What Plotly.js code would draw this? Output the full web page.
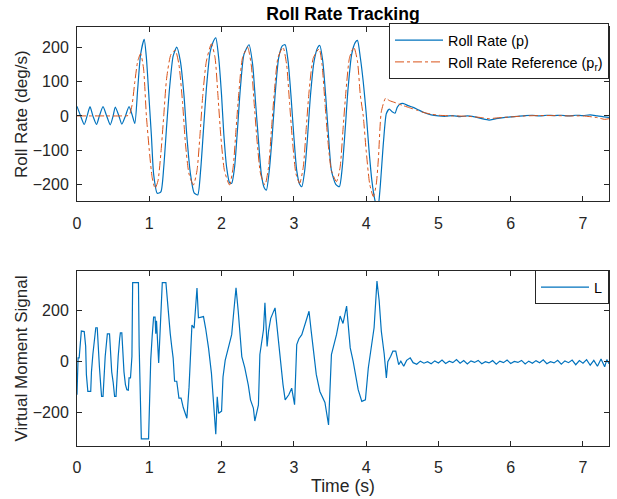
<!DOCTYPE html>
<html>
<head>
<meta charset="utf-8">
<script src="https://cdn.plot.ly/plotly-3.0.1.min.js"></script>
<style>html,body{margin:0;padding:0;background:#fff;}#chart{width:617px;height:499px;}</style>
</head>
<body>
<div id="chart"></div>
<script>
// Roll rate p (deg/s)
const time_p = [0.00,0.05,0.10,0.14,0.18,0.22,0.27,0.31,0.36,0.41,0.46,0.50,0.53,0.58,0.62,0.67,0.72,0.76,0.80,0.84,0.88,0.93,0.96,1.00,1.03,1.06,1.11,1.16,1.20,1.24,1.28,1.33,1.38,1.43,1.48,1.52,1.57,1.62,1.67,1.71,1.75,1.79,1.84,1.88,1.92,1.96,2.00,2.03,2.07,2.11,2.14,2.18,2.22,2.26,2.31,2.38,2.43,2.47,2.51,2.55,2.59,2.62,2.66,2.70,2.74,2.79,2.84,2.88,2.92,2.96,3.00,3.04,3.08,3.11,3.15,3.19,3.23,3.28,3.33,3.36,3.40,3.44,3.48,3.52,3.58,3.63,3.67,3.71,3.75,3.80,3.85,3.88,3.92,3.96,4.00,4.04,4.08,4.12,4.16,4.19,4.24,4.28,4.32,4.36,4.40,4.43,4.47,4.52,4.58,4.65,4.72,4.80,4.90,5.00,5.10,5.20,5.30,5.40,5.50,5.60,5.70,5.80,5.90,6.00,6.10,6.20,6.30,6.40,6.50,6.60,6.70,6.80,6.90,7.00,7.10,7.20,7.30,7.36];
const roll_p = [28,0,-25,0,27,0,-25,0,27,0,-26,0,26,0,-24,0,27,5,-22,80,180,224,170,40,-60,-170,-226,-222,-150,-30,80,175,201,160,60,-60,-170,-225,-231,-160,-40,80,185,215,228,170,60,-50,-150,-195,-197,-150,-40,80,180,208,150,40,-70,-170,-210,-217,-160,-60,60,170,205,208,160,60,-60,-160,-200,-207,-160,-60,60,160,200,206,160,60,-60,-160,-200,-207,-150,-40,80,180,215,221,170,100,10,-100,-190,-245,-275,-220,-76,7,20,12,8,25,35,36,30,25,18,10,3,0,-1,1,-2,0,-3,-8,-12,-8,-5,-3,-1,1,2,0,2,1,2,0,2,1,3,0,-3,-4];

// Roll rate reference p_r (deg/s)
const time_pr = [0.00,0.20,0.40,0.60,0.72,0.76,0.80,0.84,0.88,0.92,0.96,1.00,1.04,1.08,1.12,1.16,1.20,1.24,1.30,1.36,1.41,1.46,1.50,1.55,1.61,1.66,1.70,1.74,1.79,1.86,1.91,1.95,1.99,2.04,2.11,2.16,2.20,2.24,2.29,2.36,2.41,2.45,2.49,2.54,2.60,2.65,2.69,2.73,2.78,2.85,2.90,2.94,2.98,3.03,3.08,3.13,3.17,3.21,3.27,3.35,3.39,3.43,3.47,3.52,3.59,3.64,3.68,3.72,3.77,3.83,3.88,3.92,3.96,4.00,4.05,4.10,4.14,4.17,4.21,4.27,4.32,4.40,4.50,4.60,4.70,4.80,4.90,5.00,5.20,5.40,5.60,5.70,5.80,6.00,6.20,6.40,6.60,6.80,7.00,7.20,7.30,7.36];
const roll_pr = [0,0,0,0,2,30,100,160,182,140,0,-100,-180,-212,-190,-110,0,110,180,192,150,40,-80,-170,-202,-160,-60,60,160,211,170,60,-60,-160,-202,-150,-40,70,170,201,150,40,-70,-170,-202,-150,-40,70,170,201,150,40,-70,-170,-197,-150,-40,70,170,196,150,40,-70,-160,-192,-150,-40,70,170,201,160,60,0,-100,-200,-236,-200,-124,12,52,45,39,31,24,17,10,5,2,0,-1,-5,-8,-6,-3,0,1,1,0,0,-5,-10,-8];

// Virtual moment signal L
const time_L = [0.00,0.01,0.015,0.03,0.05,0.06,0.10,0.11,0.12,0.13,0.15,0.19,0.20,0.22,0.24,0.26,0.28,0.29,0.31,0.33,0.34,0.36,0.37,0.39,0.41,0.42,0.45,0.46,0.48,0.50,0.52,0.54,0.55,0.57,0.59,0.60,0.62,0.63,0.65,0.67,0.69,0.71,0.72,0.74,0.76,0.77,0.78,0.85,0.86,0.88,0.89,0.99,1.00,1.02,1.04,1.06,1.08,1.09,1.10,1.12,1.13,1.15,1.17,1.18,1.23,1.26,1.29,1.31,1.33,1.35,1.38,1.41,1.44,1.47,1.52,1.55,1.59,1.62,1.66,1.68,1.75,1.78,1.82,1.86,1.89,1.92,1.94,1.96,2.00,2.02,2.05,2.09,2.14,2.17,2.20,2.23,2.25,2.28,2.32,2.37,2.40,2.44,2.46,2.51,2.53,2.58,2.60,2.63,2.65,2.68,2.74,2.77,2.81,2.85,2.88,2.93,2.97,3.01,3.04,3.07,3.11,3.18,3.21,3.24,3.29,3.31,3.36,3.43,3.48,3.50,3.52,3.59,3.64,3.68,3.73,3.78,3.82,3.87,3.89,3.94,3.99,4.03,4.08,4.11,4.15,4.18,4.21,4.25,4.28,4.30,4.34,4.37,4.41,4.45,4.48,4.52,4.56,4.61,4.65,4.70,4.75,4.80,4.85,4.90,4.95,5.00,5.05,5.10,5.15,5.20,5.25,5.30,5.35,5.40,5.45,5.50,5.55,5.60,5.65,5.70,5.75,5.80,5.85,5.90,5.95,6.00,6.05,6.10,6.15,6.20,6.25,6.30,6.35,6.40,6.45,6.50,6.55,6.60,6.65,6.70,6.75,6.80,6.85,6.90,6.95,7.00,7.05,7.10,7.15,7.20,7.25,7.30,7.33,7.36];
const moment_L = [-130,-20,15,15,118,120,118,95,60,-51,-117,-117,-40,30,90,133,133,70,-20,-100,-136,-136,-60,20,80,109,109,60,-40,-80,-136,-136,-70,20,90,113,113,60,-40,-90,-110,-112,-64,-64,20,310,310,310,60,-160,-303,-303,-150,7,100,175,175,110,160,40,-5,120,250,310,310,200,110,60,15,-77,-77,-143,-143,-180,-222,-100,144,131,289,172,177,130,53,-46,-180,-285,-138,-203,-194,-60,5,46,106,200,290,200,133,20,-22,-92,-150,-182,-233,-170,28,125,231,60,120,170,211,130,2,-90,-150,-130,-104,-169,67,90,106,172,198,120,2,-50,-117,-160,-248,-90,28,106,179,150,218,54,2,-77,-110,-156,-150,-25,67,133,316,240,120,30,-64,0,21,41,41,-12,2,-18,5,15,-4,-10,2,-6,0,-8,3,-5,6,-7,2,-4,8,-6,4,-9,3,-3,5,-8,0,-5,4,-10,2,-4,6,-7,1,-3,5,-9,2,-6,4,-4,7,-8,0,-5,5,-10,3,-4,6,-12,4,-6,8,-14,5,-18,10,-20,8,-8];

const xTicks = [0,1,2,3,4,5,6,7];
const yTicksTop = [-200,-100,0,100,200];
const yTicksBottom = [-200,0,200];

const axisStyle = {
  showline: true, linecolor: '#262626', linewidth: 1, mirror: 'ticks',
  ticks: 'inside', ticklen: 5, tickwidth: 1, tickcolor: '#262626',
  showgrid: false, zeroline: false,
  tickfont: {family: 'Liberation Sans, Arial, sans-serif', size: 16, color: '#262626'}
};

const traces = [
  {x: time_p, y: roll_p, type: 'scatter', mode: 'lines', name: 'Roll Rate (p)',
   line: {color: '#0072BD', width: 1.2, shape: 'spline', smoothing: 0.6}, xaxis: 'x', yaxis: 'y', legend: 'legend'},
  {x: time_pr, y: roll_pr, type: 'scatter', mode: 'lines', name: 'Roll Rate Reference (p<sub>r</sub>)',
   line: {color: '#D95319', width: 1, dash: 'dashdot', shape: 'spline', smoothing: 0.6}, xaxis: 'x', yaxis: 'y', legend: 'legend'},
  {x: time_L, y: moment_L, type: 'scatter', mode: 'lines', name: 'L',
   line: {color: '#0072BD', width: 1.2}, xaxis: 'x2', yaxis: 'y2', legend: 'legend2'}
];

const layout = {
  width: 617, height: 499,
  margin: {l: 77, r: 8, t: 27, b: 53.3},
  paper_bgcolor: '#ffffff', plot_bgcolor: '#ffffff',
  font: {family: 'Liberation Sans, Arial, sans-serif', size: 14, color: '#262626'},
  showlegend: true,
  title: {text: '<b>Roll Rate Tracking</b>', font: {size: 17.6, color: '#000000'},
          x: 0.5, xref: 'paper', xanchor: 'center', y: 1 - 14/499, yref: 'container', yanchor: 'middle'},
  xaxis: Object.assign({}, axisStyle, {domain: [0, 1], anchor: 'y', range: [0, 7.36], tickvals: xTicks, ticklabelstandoff: 7}),
  yaxis: Object.assign({}, axisStyle, {domain: [0.5837, 1], anchor: 'x', range: [-250, 260], tickvals: yTicksTop, ticklabelstandoff: 4,
    title: {text: 'Roll Rate (deg/s)', font: {size: 17, color: '#262626'}, standoff: 0}}),
  xaxis2: Object.assign({}, axisStyle, {domain: [0, 1], anchor: 'y2', range: [0, 7.36], tickvals: xTicks, ticklabelstandoff: 7,
    title: {text: 'Time (s)', font: {size: 17.6, color: '#262626'}, standoff: 4}}),
  yaxis2: Object.assign({}, axisStyle, {domain: [0, 0.4172], anchor: 'x2', range: [-331, 355], tickvals: yTicksBottom, ticklabelstandoff: 4,
    title: {text: 'Virtual Moment Signal', font: {size: 17, color: '#262626'}, standoff: 0}}),
  legend: {x: 1, y: 1.0088, xanchor: 'right', yanchor: 'top', xref: 'paper', yref: 'paper',
    bgcolor: '#ffffff', bordercolor: '#262626', borderwidth: 1, itemwidth: 48,
    font: {size: 14.4, color: '#000000'}, tracegroupgap: 0},
  legend2: {x: 1, y: 0.4196, xanchor: 'right', yanchor: 'top', xref: 'paper', yref: 'paper',
    bgcolor: '#ffffff', bordercolor: '#262626', borderwidth: 1, itemwidth: 48,
    font: {size: 14.4, color: '#000000'}}
};

Plotly.newPlot('chart', traces, layout, {displayModeBar: false, staticPlot: true});
</script>
</body>
</html>
